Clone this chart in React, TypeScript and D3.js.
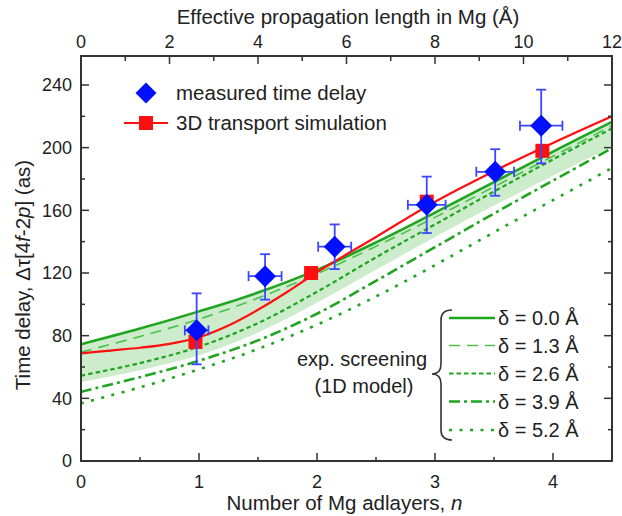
import React from 'react';
import * as d3 from 'd3';

// Grid of adlayer numbers on which the model curves are tabulated
const nGrid = [0, 0.5, 1, 1.5, 2, 2.5, 3, 3.5, 4, 4.5];

// 1D exponential-screening model for several screening offsets δ (as)
const delta00 = [74.5, 84.5, 95.5, 107.5, 122, 139.5, 158.5, 178, 197.5, 216.5];
const delta13 = [69.5, 79.5, 90.5, 104, 119.5, 137, 155.5, 175, 194.5, 214];
const delta26 = [54.5, 62.5, 73, 88, 108, 130, 151, 172, 192.5, 212.3];
const delta39 = [44.2, 53.5, 64, 77, 94, 115, 136.5, 158, 179, 199.6];
const delta52 = [36.8, 47, 58.5, 71.5, 87, 105, 125, 146, 166.5, 187];
// lower edge of the shaded model range (upper edge is δ = 0.0 Å)
const bandLow = [50.5, 58, 67.5, 82, 101, 122, 143, 163, 182, 200.6];

// 3D transport simulation: continuous curve and values at the adlayer points
const simN = [0, 0.25, 0.5, 0.75, 1.0, 1.25, 1.5, 1.75, 2.0, 2.5, 3.0, 3.5, 4.0, 4.5];
const simCurve = [68.7, 70.5, 72.3, 74.8, 79, 86.5, 96.5, 108, 120.5, 143, 165.5, 185, 203, 220];
const simPointN = [0.97, 1.95, 2.93, 3.91];
const simPointV = [76, 120, 165.5, 198];

// Measured time delays with error ranges
const measN = [0.98, 1.56, 2.15, 2.93, 3.51, 3.9];
const measV = [83.4, 118, 136.8, 163.5, 184.6, 214];
const measHi = [107, 132, 151, 181.5, 199, 237];
const measLo = [61.7, 103, 122.5, 145.5, 169.3, 190];
const measXErr = [0.1, 0.14, 0.14, 0.16, 0.16, 0.18];

// Axis ticks
const bottomMajor = [0, 1, 2, 3, 4];
const bottomMinor = [0.5, 1.5, 2.5, 3.5];
const topTicks = [0, 1, 2, 3, 4, 5, 6, 7, 8, 9, 10, 11, 12];
const leftMajor = [0, 40, 80, 120, 160, 200, 240];
const leftMinor = [20, 60, 100, 140, 180, 220];

const legendDeltas = ['δ = 0.0 Å', 'δ = 1.3 Å', 'δ = 2.6 Å', 'δ = 3.9 Å', 'δ = 5.2 Å'];

const FONT = '"Liberation Sans", Arial, sans-serif';
const TXT = '#222';
const AX = '#333';
const GREEN = '#1fa51f';
const GREEN_LIGHT = '#4cc04c';
const RED = '#ff1010';
const BLUE = '#0010ff';
const BLUE_BAR = '#3c46ff';

const L = 81, R = 612, T = 56, B = 461;

export default function App() {
  const x = d3.scaleLinear().domain([0, 4.5]).range([L, R]);
  const xTop = d3.scaleLinear().domain([0, 12]).range([L, R]);
  const y = d3.scaleLinear().domain([0, 258.5]).range([B, T]);

  const line = d3
    .line<number>()
    .x((_, i) => x(nGrid[i]))
    .y((d) => y(d))
    .curve(d3.curveCatmullRom.alpha(0.5));

  const simLine = d3
    .line<number>()
    .x((_, i) => x(simN[i]))
    .y((d) => y(d))
    .curve(d3.curveCatmullRom.alpha(0.5));

  const band = d3
    .area<number>()
    .x((_, i) => x(nGrid[i]))
    .y0((_, i) => y(bandLow[i]))
    .y1((d) => y(d))
    .curve(d3.curveCatmullRom.alpha(0.5));

  const styles = [
    { data: delta00, color: GREEN, width: 2.6, dash: undefined as string | undefined },
    { data: delta13, color: GREEN_LIGHT, width: 1.6, dash: '11 7' },
    { data: delta26, color: GREEN, width: 2.2, dash: '4.5 3' },
    { data: delta39, color: GREEN, width: 2.6, dash: '11 4 3 4' },
    { data: delta52, color: GREEN, width: 2.6, dash: '3 7.5' },
  ];

  const diamond = (cx: number, cy: number, r: number) =>
    `M${cx},${cy - r}L${cx + r},${cy}L${cx},${cy + r}L${cx - r},${cy}Z`;

  const legendRows = [318, 345.5, 373.5, 401.5, 430];

  return (
    <div style={{ position: 'absolute', left: 0, top: 0 }}>
      <svg width={622} height={516} style={{ display: 'block', fontFamily: FONT }}>
        <rect x={0} y={0} width={622} height={516} fill="#fff" />
        <defs>
          <clipPath id="plot">
            <rect x={L} y={T} width={R - L} height={B - T} />
          </clipPath>
        </defs>

        <g clipPath="url(#plot)">
          <path d={band(delta00) || ''} fill="#c9ebc9" opacity={0.95} />
          {styles
            .slice()
            .reverse()
            .map((s, i) => (
              <path
                key={i}
                d={line(s.data) || ''}
                fill="none"
                stroke={s.color}
                strokeWidth={s.width}
                strokeDasharray={s.dash}
              />
            ))}
          <path d={simLine(simCurve) || ''} fill="none" stroke={RED} strokeWidth={2.2} />
          {simPointN.map((n, i) => (
            <rect
              key={i}
              x={x(n) - 7}
              y={y(simPointV[i]) - 7}
              width={14}
              height={14}
              fill={RED}
            />
          ))}
          {measN.map((n, i) => {
            const cx = x(n);
            const cy = y(measV[i]);
            const x0 = x(n - measXErr[i]);
            const x1 = x(n + measXErr[i]);
            const y0 = y(measLo[i]);
            const y1 = y(measHi[i]);
            return (
              <g key={i} stroke={BLUE_BAR} strokeWidth={1.8} fill="none">
                <line x1={cx} x2={cx} y1={y0} y2={y1} />
                <line x1={cx - 5} x2={cx + 5} y1={y0} y2={y0} />
                <line x1={cx - 5} x2={cx + 5} y1={y1} y2={y1} />
                <line x1={x0} x2={x1} y1={cy} y2={cy} />
                <line x1={x0} x2={x0} y1={cy - 5} y2={cy + 5} />
                <line x1={x1} x2={x1} y1={cy - 5} y2={cy + 5} />
              </g>
            );
          })}
          {measN.map((n, i) => (
            <path key={i} d={diamond(x(n), y(measV[i]), 11)} fill={BLUE} />
          ))}
        </g>

        {/* frame */}
        <rect x={L} y={T} width={R - L} height={B - T} fill="none" stroke={AX} strokeWidth={2} />

        {/* bottom axis */}
        {bottomMajor.map((v) => (
          <g key={'bm' + v}>
            <line x1={x(v)} x2={x(v)} y1={B} y2={B - 8} stroke={AX} strokeWidth={1.5} />
            <text x={x(v)} y={488} fontSize={18} fill={TXT} textAnchor="middle">
              {v}
            </text>
          </g>
        ))}
        {bottomMinor.map((v) => (
          <line key={'bn' + v} x1={x(v)} x2={x(v)} y1={B} y2={B - 4} stroke={AX} strokeWidth={1.5} />
        ))}
        <text x={(L + R) / 2 - 2} y={510} fontSize={20.5} fill={TXT} textAnchor="middle">
          Number of Mg adlayers, <tspan fontStyle="italic">n</tspan>
        </text>

        {/* top axis */}
        {topTicks.map((v) => (
          <g key={'t' + v}>
            <line
              x1={xTop(v)}
              x2={xTop(v)}
              y1={T}
              y2={T + (v % 2 === 0 ? 8 : 5)}
              stroke={AX}
              strokeWidth={1.5}
            />
            {v % 2 === 0 && (
              <text x={xTop(v)} y={48} fontSize={18} fill={TXT} textAnchor="middle">
                {v}
              </text>
            )}
          </g>
        ))}
        <text x={348} y={24} fontSize={20.5} fill={TXT} textAnchor="middle">
          Effective propagation length in Mg (Å)
        </text>

        {/* left and right axes */}
        {leftMajor.map((v) => (
          <g key={'lm' + v}>
            <line x1={L} x2={L + 8} y1={y(v)} y2={y(v)} stroke={AX} strokeWidth={1.5} />
            <line x1={R} x2={R - 8} y1={y(v)} y2={y(v)} stroke={AX} strokeWidth={1.5} />
            <text x={72} y={y(v)} dy="0.36em" fontSize={18} fill={TXT} textAnchor="end">
              {v}
            </text>
          </g>
        ))}
        {leftMinor.map((v) => (
          <g key={'ln' + v}>
            <line x1={L} x2={L + 4} y1={y(v)} y2={y(v)} stroke={AX} strokeWidth={1.5} />
            <line x1={R} x2={R - 4} y1={y(v)} y2={y(v)} stroke={AX} strokeWidth={1.5} />
          </g>
        ))}
        <text
          transform="translate(30,275) rotate(-90)"
          fontSize={20.5}
          fill={TXT}
          textAnchor="middle"
        >
          Time delay, Δτ[4<tspan fontStyle="italic">f</tspan>-2<tspan fontStyle="italic">p</tspan>] (as)
        </text>

        {/* upper-left legend */}
        <path d={diamond(146, 93, 10.5)} fill={BLUE} />
        <text x={176} y={93} dy="0.36em" fontSize={20.5} fill={TXT}>
          measured time delay
        </text>
        <line x1={124} x2={168} y1={123} y2={123} stroke={RED} strokeWidth={2.2} />
        <rect x={139} y={116} width={14} height={14} fill={RED} />
        <text x={176} y={123} dy="0.36em" fontSize={20.5} fill={TXT}>
          3D transport simulation
        </text>

        {/* lower-right legend */}
        {styles.map((s, i) => (
          <g key={'lg' + i}>
            <line
              x1={449}
              x2={495}
              y1={legendRows[i]}
              y2={legendRows[i]}
              stroke={s.color}
              strokeWidth={s.width}
              strokeDasharray={s.dash}
            />
            <text x={498} y={legendRows[i]} dy="0.36em" fontSize={20} fill={TXT}>
              {legendDeltas[i]}
            </text>
          </g>
        ))}
        <path
          d="M452,310 Q441,310 441,320 L441,364 Q441,374 432,374 Q441,374 441,384 L441,430 Q441,440 452,440"
          fill="none"
          stroke={AX}
          strokeWidth={1.6}
        />
        <text x={362} y={359} dy="0.36em" fontSize={20} fill={TXT} textAnchor="middle">
          exp. screening
        </text>
        <text x={364} y={386} dy="0.36em" fontSize={20} fill={TXT} textAnchor="middle">
          (1D model)
        </text>
      </svg>
    </div>
  );
}
